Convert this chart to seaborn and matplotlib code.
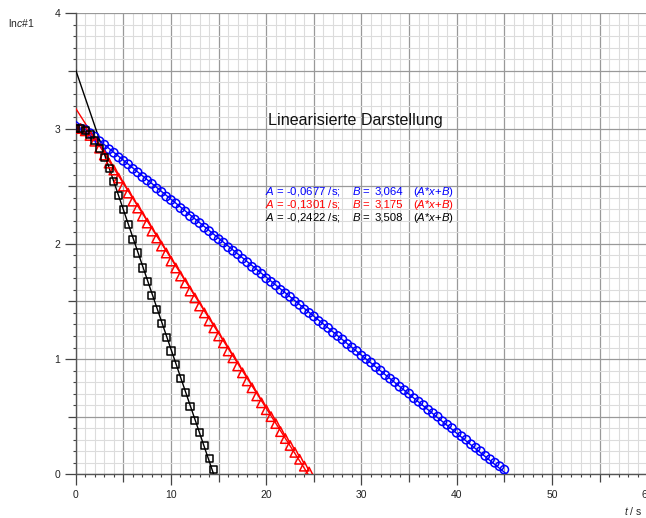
import matplotlib
matplotlib.use("Agg")
import matplotlib.pyplot as plt
import matplotlib.ticker as mticker
import seaborn as sns
import numpy as np

# measured ln c values, one sample every 0.5 s
dt = 0.5
black_y = [3.00, 3.00, 2.98, 2.95, 2.90, 2.83, 2.75, 2.65, 2.54, 2.42,
           2.30, 2.17, 2.04, 1.92, 1.79, 1.67, 1.55, 1.43, 1.31, 1.19,
           1.07, 0.95, 0.83, 0.71, 0.59, 0.47, 0.36, 0.25, 0.14, 0.04]
red_y = [3.00, 3.00, 2.98, 2.94, 2.89, 2.83, 2.77, 2.70, 2.64, 2.57,
         2.50, 2.44, 2.37, 2.31, 2.24, 2.18, 2.11, 2.05, 1.98, 1.92,
         1.85, 1.79, 1.72, 1.66, 1.59, 1.53, 1.46, 1.40, 1.33, 1.27,
         1.20, 1.14, 1.07, 1.01, 0.94, 0.88, 0.81, 0.75, 0.68, 0.62,
         0.56, 0.50, 0.44, 0.37, 0.31, 0.25, 0.19, 0.13, 0.07, 0.02]
blue_y = [3.00, 3.00, 2.99, 2.96, 2.93, 2.89, 2.86, 2.82, 2.79, 2.75,
          2.72, 2.69, 2.65, 2.62, 2.58, 2.55, 2.52, 2.48, 2.45, 2.41,
          2.38, 2.35, 2.31, 2.28, 2.24, 2.21, 2.18, 2.14, 2.11, 2.07,
          2.04, 2.01, 1.97, 1.94, 1.91, 1.87, 1.84, 1.80, 1.77, 1.74,
          1.70, 1.67, 1.64, 1.60, 1.57, 1.54, 1.50, 1.47, 1.43, 1.40,
          1.37, 1.33, 1.30, 1.27, 1.23, 1.20, 1.17, 1.13, 1.10, 1.07,
          1.03, 1.00, 0.97, 0.93, 0.90, 0.86, 0.83, 0.80, 0.76, 0.73,
          0.70, 0.66, 0.63, 0.60, 0.56, 0.53, 0.50, 0.46, 0.43, 0.40,
          0.36, 0.33, 0.30, 0.26, 0.23, 0.20, 0.16, 0.13, 0.10, 0.07,
          0.04]

# linear fits y = A*t + B
fit_A = [-0.0677, -0.1301, -0.2422]
fit_B = [3.064, 3.175, 3.508]
fit_A_txt = ["-0,0677", "-0,1301", "-0,2422"]
fit_B_txt = ["3,064", "3,175", "3,508"]
colors = ["#0000ff", "#ff0000", "#000000"]
markers = ["o", "^", "s"]
marker_sizes = [36, 46, 26]
series = [blue_y, red_y, black_y]

sns.set_theme(style="white")
plt.rcParams["font.family"] = ["Liberation Sans", "DejaVu Sans"]
plt.rcParams["mathtext.fontset"] = "custom"
plt.rcParams["mathtext.it"] = "Liberation Sans:italic"
plt.rcParams["mathtext.rm"] = "Liberation Sans"

fig = plt.figure(figsize=(6.46, 5.18), dpi=100)
ax = fig.add_axes([0.1172, 0.0844, 0.8847, 0.8899])

ax.set_xlim(0, 60)
ax.set_ylim(0, 4)

t_line = np.array([0.0, 60.0])
for y, A, B, c, m, ms in zip(series, fit_A, fit_B, colors, markers, marker_sizes):
    t = np.arange(len(y)) * dt
    sns.lineplot(x=t_line, y=A * t_line + B, color=c, lw=1.0, ax=ax, zorder=3)
    sns.scatterplot(x=t, y=y, marker=m, s=ms, facecolor="none",
                    edgecolor=c, linewidth=1.1, ax=ax, zorder=4)

# grid and ticks
ax.xaxis.set_major_locator(mticker.MultipleLocator(5))
ax.xaxis.set_minor_locator(mticker.MultipleLocator(1))
ax.yaxis.set_major_locator(mticker.MultipleLocator(0.5))
ax.yaxis.set_minor_locator(mticker.MultipleLocator(0.1))
ax.xaxis.set_major_formatter(mticker.FuncFormatter(
    lambda v, p: f"{v:.0f}" if abs(v % 10) < 1e-6 else ""))
ax.yaxis.set_major_formatter(mticker.FuncFormatter(
    lambda v, p: f"{v:.0f}" if abs(v % 1) < 1e-6 else ""))
ax.grid(which="minor", color="#dcdcdc", lw=0.8, zorder=0)
ax.grid(which="major", color="#999999", lw=0.9, zorder=0)
ax.set_axisbelow(True)
ax.tick_params(which="major", direction="out", length=8, width=0.9,
               color="#444444", labelsize=7.5, labelcolor="#222222",
               left=True, bottom=True, pad=3)
ax.tick_params(which="minor", direction="out", length=2.5, width=0.8,
               color="#444444", left=True, bottom=True)
fig.canvas.draw()
for tick, v in zip(ax.xaxis.get_major_ticks(), ax.xaxis.get_majorticklocs()):
    if abs(v % 10) > 1e-6:
        tick.tick1line.set_markersize(6)
for tick, v in zip(ax.yaxis.get_major_ticks(), ax.yaxis.get_majorticklocs()):
    if abs(v % 1) > 1e-6:
        tick.tick1line.set_markersize(6)

for side in ["top", "right"]:
    ax.spines[side].set_visible(False)
for side in ["left", "bottom"]:
    ax.spines[side].set_color("#555555")
    ax.spines[side].set_linewidth(1.0)

# annotations
ax.text(29.33, 3.07, "Linearisierte Darstellung", fontsize=11.6,
        ha="center", va="center", color="#111111")
rows_y = [2.425, 2.312, 2.199]
for ry, a, b, c in zip(rows_y, fit_A_txt, fit_B_txt, colors):
    ax.text(19.87, ry, f"$A$ = {a} /s;", color=c, fontsize=8.2, va="baseline")
    ax.text(29.01, ry, "$B$ =", color=c, fontsize=8.2, va="baseline")
    ax.text(34.36, ry, b, color=c, fontsize=8.2, va="baseline", ha="right")
    ax.text(35.41, ry, "($A$*$x$+$B$)", color=c, fontsize=8.2, va="baseline")

fig.text(8 / 646, 1 - 23 / 518, r"ln$c$#1", fontsize=7.5, ha="left", va="center")
fig.text(624 / 646, 1 - 511 / 518, r"$t$ / s", fontsize=7.5, ha="left", va="center")

fig.savefig("out.png", dpi=100)
